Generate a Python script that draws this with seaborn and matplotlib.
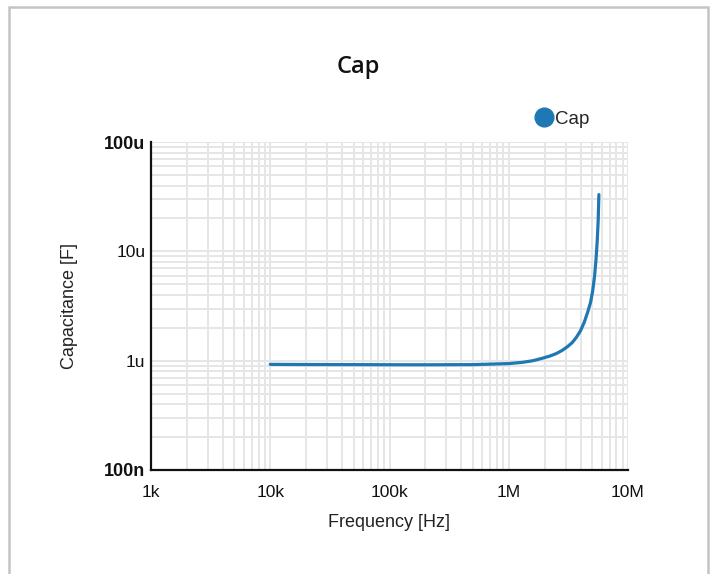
import matplotlib
matplotlib.use("Agg")
import matplotlib.pyplot as plt
import matplotlib.ticker as mticker
from matplotlib.patches import Rectangle
from matplotlib.lines import Line2D
import seaborn as sns
import pandas as pd

# Data
freq_hz = [1e4, 2e4, 5e4, 1e5, 2e5, 5e5, 1e6, 1.3e6, 1.6e6, 1.9e6, 2.2e6, 2.5e6,
           2.8e6, 3.1e6, 3.4e6, 3.7e6, 4.0e6, 4.3e6, 4.6e6, 4.85e6, 5.05e6,
           5.25e6, 5.4e6, 5.52e6, 5.62e6, 5.7e6]
cap_uF = [0.925, 0.922, 0.92, 0.918, 0.917, 0.92, 0.94, 0.965, 1.0, 1.05, 1.1, 1.16,
          1.24, 1.34, 1.46, 1.64, 1.88, 2.25, 2.8, 3.4, 4.3,
          6.0, 8.6, 12.5, 19.0, 33.0]
series_name = "Cap"
x_ticks = [1e3, 1e4, 1e5, 1e6, 1e7]
x_tick_labels = ["1k", "10k", "100k", "1M", "10M"]
y_ticks = [1e-7, 1e-6, 1e-5, 1e-4]
y_tick_labels = ["100n", "1u", "10u", "100u"]

df = pd.DataFrame({"Frequency": freq_hz,
                   "Capacitance": [c * 1e-6 for c in cap_uF],
                   "Series": series_name})

sns.set_style("white")
plt.rcParams["font.family"] = ["Liberation Sans", "DejaVu Sans"]

W, H = 717, 574
fig = plt.figure(figsize=(W / 100, H / 100), dpi=100)
ax = fig.add_axes([151 / W, 1 - 470 / H, (628 - 151) / W, (470 - 142) / H])

color = "#1f77b4"
sns.lineplot(data=df, x="Frequency", y="Capacitance", ax=ax, color=color,
             linewidth=2.3, legend=False)

ax.set_xscale("log")
ax.set_yscale("log")
ax.set_xlim(1e3, 1e7)
ax.set_ylim(1e-7, 1e-4)

ax.xaxis.set_major_locator(mticker.FixedLocator(x_ticks))
ax.xaxis.set_major_formatter(mticker.FixedFormatter(x_tick_labels))
ax.yaxis.set_major_locator(mticker.FixedLocator(y_ticks))
ax.yaxis.set_major_formatter(mticker.FixedFormatter(y_tick_labels))
ax.xaxis.set_minor_locator(mticker.LogLocator(base=10, subs=range(2, 10), numticks=20))
ax.yaxis.set_minor_locator(mticker.LogLocator(base=10, subs=range(2, 10), numticks=20))
ax.xaxis.set_minor_formatter(mticker.NullFormatter())
ax.yaxis.set_minor_formatter(mticker.NullFormatter())

ax.grid(True, which="both", color="#e6e6e6", linewidth=1.4)
ax.set_axisbelow(True)
ax.tick_params(axis="both", which="both", length=0, labelsize=12.5, colors="#111111")
ax.tick_params(axis="x", pad=11)
ax.tick_params(axis="y", pad=4)
for lbl in ax.get_yticklabels():
    if lbl.get_text() in ("100n", "100u"):
        lbl.set_fontweight("bold")
        lbl.set_fontsize(13)

for s in ["top", "right"]:
    ax.spines[s].set_visible(False)
for s in ["left", "bottom"]:
    ax.spines[s].set_color("#111111")
    ax.spines[s].set_linewidth(1.6)

ax.set_xlabel("Frequency [Hz]", fontsize=13, color="#222222", labelpad=10)
ax.set_ylabel("Capacitance [F]", fontsize=13, color="#222222", labelpad=19)

fig.text(358 / W, 1 - 67 / H, "Cap", ha="center", va="center", fontsize=17,
         family=["Open Sans", "DejaVu Sans"], fontweight="semibold", color="#111111")

handle = Line2D([], [], linestyle="none", marker="o", markersize=13.5,
                markerfacecolor=color, markeredgecolor=color)
fig.legend([handle], [series_name], loc="center", bbox_to_anchor=(561 / W, 1 - 119 / H),
           frameon=False, fontsize=13.5, handletextpad=0.0, borderpad=0, handlelength=1.2)

fig.patches.append(Rectangle((9 / W, -0.05), (708 - 9) / W, 1 - 7 / H + 0.05,
                             transform=fig.transFigure, fill=False,
                             edgecolor="#c4c4c4", linewidth=1.8))

fig.savefig("out.png", dpi=100)
